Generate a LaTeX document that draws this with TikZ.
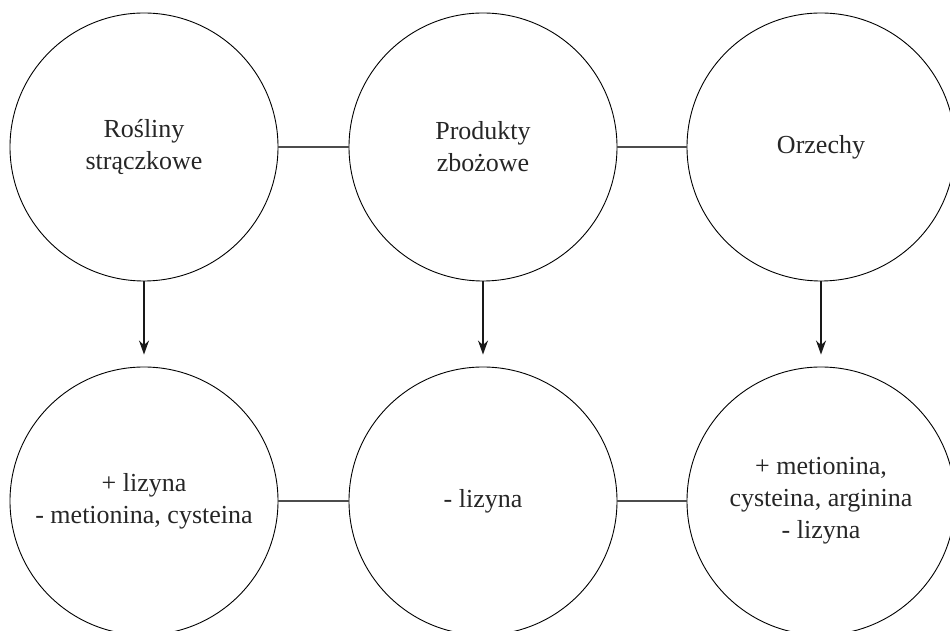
\documentclass[tikz,border=0pt]{standalone}
\usepackage{fontspec}
\setmainfont{Liberation Serif}
\usetikzlibrary{arrows.meta}
\begin{document}
\begin{tikzpicture}[x=1pt,y=1pt,
  circ/.style={circle,draw=black,line width=0.9pt,minimum size=268pt,inner sep=0pt,
    align=center,font=\fontsize{26}{32}\selectfont,text=black!85},
  link/.style={draw=black!70,line width=1.2pt},
  arr/.style={draw=black!90,line width=1.2pt,-{Stealth[length=14pt,width=10pt]},shorten >=12pt}]
\useasboundingbox (0,0) rectangle (950,631);
\clip (0,0) rectangle (950,631);
\node[circ] (t1) at (144,484) {Rośliny\\strączkowe};
\node[circ] (t2) at (483,484) {Produkty\\zbożowe};
\node[circ] (t3) at (821,484) {Orzechy};
\node[circ] (b1) at (144,130) {+ lizyna\\- metionina, cysteina};
\node[circ] (b2) at (483,130) {- lizyna};
\node[circ] (b3) at (821,130) {+ metionina,\\cysteina, arginina\\- lizyna};
\draw[link] (t1) -- (t2);
\draw[link] (t2) -- (t3);
\draw[link] (b1) -- (b2);
\draw[link] (b2) -- (b3);
\draw[arr] (t1) -- (b1);
\draw[arr] (t2) -- (b2);
\draw[arr] (t3) -- (b3);
\end{tikzpicture}
\end{document}
